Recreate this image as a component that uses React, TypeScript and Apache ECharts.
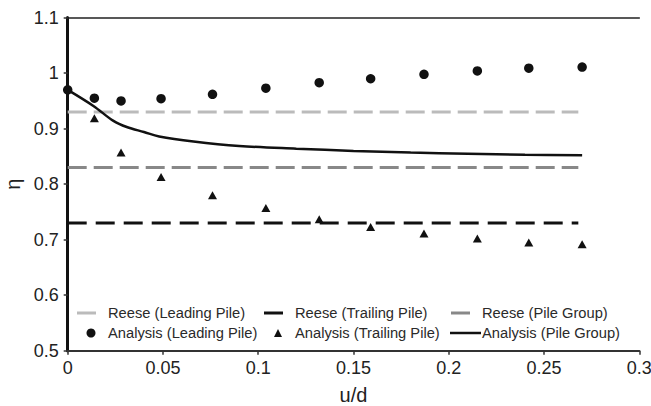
import React, { useEffect, useRef } from "react";
import * as echarts from "echarts";

const uD = [0, 0.014, 0.028, 0.049, 0.076, 0.104, 0.132, 0.159, 0.187, 0.215, 0.242, 0.27];
const leadingAnalysis = [0.97, 0.955, 0.95, 0.954, 0.962, 0.973, 0.983, 0.99, 0.998, 1.004, 1.009, 1.011];
const trailingX = [0.014, 0.028, 0.049, 0.076, 0.104, 0.132, 0.159, 0.187, 0.215, 0.242, 0.27];
const trailingAnalysis = [0.919, 0.857, 0.813, 0.78, 0.757, 0.737, 0.723, 0.711, 0.702, 0.695, 0.692];
const groupX = [0, 0.0135, 0.024, 0.031, 0.04, 0.048, 0.066, 0.09, 0.12, 0.15, 0.18, 0.21, 0.24, 0.27];
const groupAnalysis = [0.97, 0.941, 0.914, 0.903, 0.894, 0.886, 0.877, 0.869, 0.864, 0.86, 0.857, 0.855, 0.853, 0.852];
const reeseX = [0, 0.268];
const reeseLeading = 0.93;
const reeseTrailing = 0.73;
const reeseGroup = 0.83;
const xTicks = ["0", "0.05", "0.1", "0.15", "0.2", "0.25", "0.3"];
const yTicks = ["0.5", "0.6", "0.7", "0.8", "0.9", "1", "1.1"];

const FONT = "'Liberation Sans', Arial, sans-serif";

export default function App() {
  const ref = useRef<HTMLDivElement>(null);
  useEffect(() => {
    if (!ref.current) return;
    const chart = echarts.init(ref.current, null, { renderer: "svg" });
    const legendFont = { fontSize: 14.7, fontFamily: FONT, fill: "#2a2a2a" };
    const txt = (x: number, y: number, t: string) => ({
      type: "text",
      x,
      y,
      style: { ...legendFont, text: t, verticalAlign: "middle", align: "left" },
    });
    const seg = (x1: number, x2: number, y: number, color: string, w = 3) => ({
      type: "line",
      shape: { x1, y1: y, x2, y2: y },
      style: { stroke: color, lineWidth: w },
    });
    const r1 = 313;
    const r2 = 333;
    chart.setOption({
      animation: false,
      textStyle: { fontFamily: FONT },
      grid: { left: 67.7, right: 11.7, top: 17.7, bottom: 55.3, outerBoundsMode: "none", containLabel: false },
      xAxis: [
        {
          type: "value",
          min: 0,
          max: 0.3,
          interval: 0.05,
          name: "u/d",
          nameLocation: "middle",
          nameGap: 34,
          nameTextStyle: { fontSize: 20, color: "#222", fontFamily: FONT },
          axisLine: { lineStyle: { color: "#333", width: 2 } },
          axisTick: { show: true, inside: false, length: 4, lineStyle: { color: "#333", width: 1.5 } },
          axisLabel: {
            fontSize: 18,
            color: "#222",
            margin: 8,
            formatter: (v: number) => xTicks[Math.round(v / 0.05)] ?? "",
          },
          splitLine: { show: false },
        },
        {
          type: "value",
          position: "top",
          min: 0,
          max: 0.3,
          axisLine: { show: true, lineStyle: { color: "#222", width: 1.5 } },
          axisTick: { show: false },
          axisLabel: { show: false },
          splitLine: { show: false },
        },
      ],
      yAxis: [
        {
          type: "value",
          min: 0.5,
          max: 1.1,
          interval: 0.1,
          name: "η",
          nameLocation: "middle",
          nameGap: 44,
          nameRotate: 90,
          nameTextStyle: { fontSize: 20, color: "#222", fontFamily: FONT },
          axisLine: { show: true, lineStyle: { color: "#111", width: 3 } },
          axisTick: { show: true, inside: false, length: 4, lineStyle: { color: "#333", width: 1.5 } },
          axisLabel: {
            fontSize: 18,
            color: "#222",
            margin: 9,
            formatter: (v: number) => yTicks[Math.round((v - 0.5) / 0.1)] ?? "",
          },
          splitLine: { show: false },
        },
        {
          type: "value",
          position: "right",
          min: 0.5,
          max: 1.1,
          axisLine: { show: true, lineStyle: { color: "#111", width: 3 } },
          axisTick: { show: false },
          axisLabel: { show: false },
          splitLine: { show: false },
        },
      ],
      series: [
        {
          name: "Reese (Leading Pile)",
          type: "line",
          symbol: "none",
          data: reeseX.map((x) => [x, reeseLeading]),
          lineStyle: { color: "#bbbbbb", width: 3, type: [19, 7] },
          z: 2,
        },
        {
          name: "Reese (Trailing Pile)",
          type: "line",
          symbol: "none",
          data: reeseX.map((x) => [x, reeseTrailing]),
          lineStyle: { color: "#111111", width: 3, type: [19, 9] },
          z: 2,
        },
        {
          name: "Reese (Pile Group)",
          type: "line",
          symbol: "none",
          data: reeseX.map((x) => [x, reeseGroup]),
          lineStyle: { color: "#888888", width: 3, type: [19, 7] },
          z: 2,
        },
        {
          name: "Analysis (Pile Group)",
          type: "line",
          symbol: "none",
          smooth: 0.35,
          data: groupX.map((x, i) => [x, groupAnalysis[i]]),
          lineStyle: { color: "#111111", width: 2.5 },
          z: 3,
        },
        {
          name: "Analysis (Leading Pile)",
          type: "scatter",
          symbol: "circle",
          symbolSize: 9.5,
          data: uD.map((x, i) => [x, leadingAnalysis[i]]),
          itemStyle: { color: "#111111", opacity: 1 },
          z: 4,
        },
        {
          name: "Analysis (Trailing Pile)",
          type: "scatter",
          symbol: "triangle",
          symbolSize: [9, 8],
          data: trailingX.map((x, i) => [x, trailingAnalysis[i]]),
          itemStyle: { color: "#111111", opacity: 1 },
          z: 4,
        },
      ],
      graphic: [
        seg(77, 96, r1, "#bbbbbb"),
        txt(108, r1, "Reese (Leading Pile)"),
        seg(264, 283, r1, "#111111"),
        txt(295, r1, "Reese (Trailing Pile)"),
        seg(451, 470, r1, "#888888"),
        txt(482, r1, "Reese (Pile Group)"),
        { type: "circle", shape: { cx: 91, cy: r2, r: 4.5 }, style: { fill: "#111" } },
        txt(108, r2, "Analysis (Leading Pile)"),
        {
          type: "polygon",
          shape: { points: [[274, r2 + 4], [282, r2 + 4], [278, r2 - 4]] },
          style: { fill: "#111" },
        },
        txt(295, r2, "Analysis (Trailing Pile)"),
        seg(450, 481, r2, "#111111", 2.5),
        txt(482, r2, "Analysis (Pile Group)"),
      ],
    });
    return () => chart.dispose();
  }, []);
  return (
    <div
      ref={ref}
      style={{ position: "fixed", left: 0, top: 0, width: 651, height: 406, background: "#fff" }}
    />
  );
}
